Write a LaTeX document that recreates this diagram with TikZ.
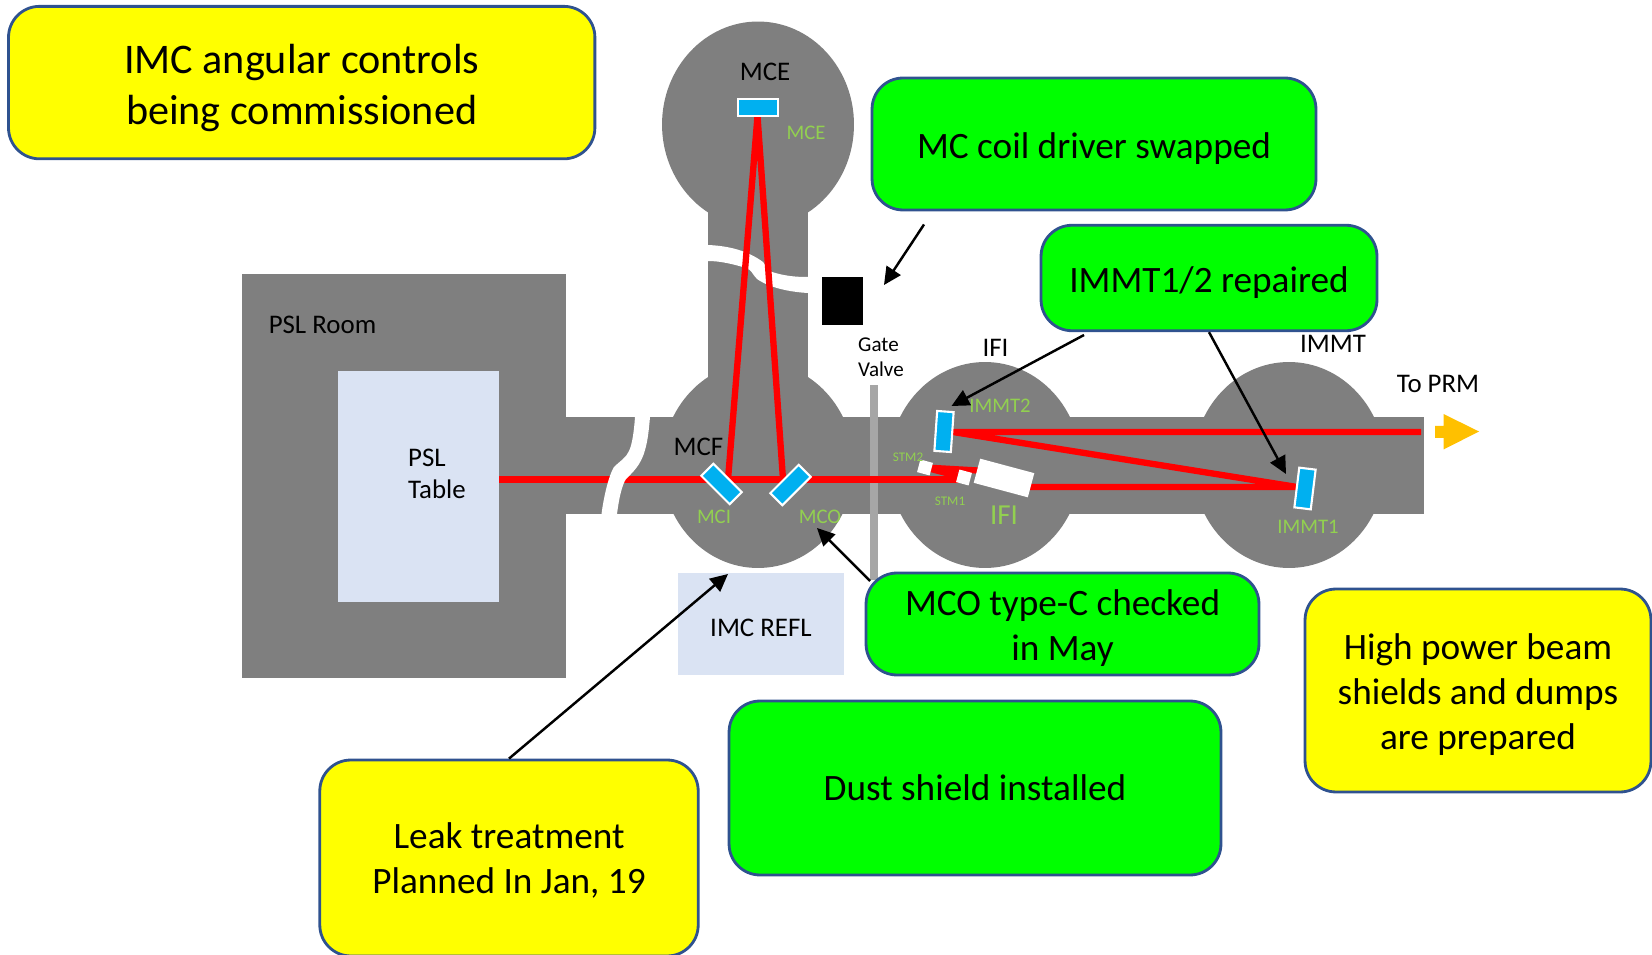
\documentclass[tikz,border=0pt]{standalone}
\usepackage{fontspec}
\setmainfont{Carlito}
\usetikzlibrary{arrows.meta,shapes.geometric}
\definecolor{tubegray}{RGB}{127,127,127}
\definecolor{mirrorblue}{RGB}{0,176,240}
\definecolor{labelgreen}{RGB}{146,208,80}
\definecolor{boxedge}{RGB}{47,82,143}
\definecolor{tablefill}{RGB}{218,227,243}
\definecolor{noteyellow}{RGB}{255,255,0}
\definecolor{notegreen}{RGB}{0,255,0}
\definecolor{outorange}{RGB}{255,192,0}

\begin{document}
\begin{tikzpicture}[
    x=0.02cm, y=-0.02cm,
    callout/.style={draw=boxedge, line width=1.6pt, rounded corners=0.62cm, align=center, font=\fontsize{21.2}{25.7}\selectfont},
    yellowbox/.style={callout, fill=noteyellow},
    greenbox/.style={callout, fill=notegreen},
    lowered/.style={execute at begin node={\rule{0pt}{.96em}}},
    chamber/.style={ellipse, fill=tubegray, inner sep=0, minimum width=3.84cm, minimum height=4.12cm},
    mirror/.style={draw=white, line width=1.2pt, fill=mirrorblue, inner sep=0},
    optic/.style={fill=white, inner sep=0},
    tablebox/.style={fill=tablefill, inner sep=0, font=\fontsize{15.3}{18}\selectfont},
    beam/.style={red, line width=3.6pt},
    gap/.style={fill=white},
    note/.style={inner sep=0, align=center, font=\fontsize{15.3}{18}\selectfont},
    tag/.style={inner sep=0, text=labelgreen, font=\fontsize{11.8}{14}\selectfont},
    arrow/.style={-{Triangle[length=10pt,width=9.5pt]}, line width=1.4pt}
]
\useasboundingbox (0,0) rectangle (1652,955);
\clip (0,0) rectangle (1652,955);

% vacuum system
\fill[tubegray] (241.5,274) rectangle (566,678);
\fill[tubegray] (566,417) rectangle (1424,514);
\fill[tubegray] (708,200) rectangle (808,400);
\node[chamber] (mcechamber) at (758,124.5) {};
\node[chamber] (mcfchamber) at (758,465) {};
\node[chamber] (ifichamber) at (985,465) {};
\node[chamber] (immtchamber) at (1289,465) {};

% gate valve and blocks
\fill[black!35] (870,385) rectangle (878,580);
\fill[black] (822,277.5) rectangle (863,325.5);

% cuts in the tubes
\fill[gap] (708,245) .. controls (730,246) and (748,251) .. (763,262) .. controls (767,266) and (766,270) .. (772,272) .. controls (785,276) and (795,277) .. (808,277) -- (808,293) .. controls (790,292) and (770,288) .. (757,279) .. controls (752,274) and (752,270) .. (746,268) .. controls (733,264) and (720,261) .. (708,261) -- cycle;

% tables
\node[tablebox, minimum width=3.22cm, minimum height=4.62cm] (psltable) at (418.5,486.5) {};
\node[tablebox, minimum width=3.31cm, minimum height=2.04cm, lowered] (imcrefl) at (761,624) {IMC REFL};

% beam
\coordinate (pslout) at (499,479.5);
\coordinate (stm1in) at (964,479.5);
\coordinate (prmout) at (1421,432);
\coordinate (mcein) at (757.5,116);
\coordinate (mcileg) at (728,479.5);
\coordinate (mcoleg) at (783,479.5);
\coordinate (immt1in) at (1297,487);
\coordinate (immt2in) at (953,432);
\coordinate (ifiout) at (1030,487);
\coordinate (stm2out) at (925,467.5);
\coordinate (stm1out) at (964,477.5);
\coordinate (ifiin) at (1004,472);
\draw[beam] (pslout) -- (stm1in);
\draw[beam] (mcileg) -- (mcein) -- (mcoleg);
\draw[beam] (stm2out) -- (stm1out);
\draw[beam] (stm2out) -- (ifiin);
\draw[beam] (ifiout) -- (immt1in) -- (immt2in) -- (prmout);

% mirrors and optics
\node[mirror, minimum width=0.8cm, minimum height=0.33cm] (mce) at (758,107.5) {};
\node[mirror, rotate=-45, minimum width=0.8cm, minimum height=0.34cm] (mci) at (721.5,484) {};
\node[mirror, rotate=45, minimum width=0.8cm, minimum height=0.34cm] (mco) at (790.5,485) {};
\node[mirror, rotate=-4, minimum width=0.33cm, minimum height=0.8cm] (immt2) at (944,431.5) {};
\node[mirror, rotate=-7, minimum width=0.33cm, minimum height=0.8cm] (immt1) at (1305,488.5) {};
\node[optic, rotate=-15, minimum width=0.26cm, minimum height=0.26cm] (stm2) at (925,467.5) {};
\node[optic, rotate=-15, minimum width=0.26cm, minimum height=0.26cm] (stm1) at (964,477.5) {};
\node[optic, rotate=-15, minimum width=1.12cm, minimum height=0.5cm] (ifi) at (1004,478) {};
\fill[gap] (635,417) .. controls (634,432) and (632,445) .. (629,451) .. controls (626,458) and (620,461) .. (614,467) .. controls (609,475) and (604,495) .. (601.5,514) -- (617,514) .. controls (619,498) and (622,485) .. (626,479) .. controls (633,472) and (641,465) .. (645,450) .. controls (648,440) and (649,428) .. (650,417) -- cycle;

% labels
\node[note] (pslroom) at (322.5,324.5) {PSL Room};
\node[note, align=left] (psllabel) at (437,474) {PSL\\Table};
\node[note] (mcelabel) at (765,71.5) {MCE};
\node[note] (mcflabel) at (698.5,447) {MCF};
\node[note] (ifilabel) at (995.5,348) {IFI};
\node[note] (immtlabel) at (1333,343.5) {IMMT};
\node[note] (prmlabel) at (1438,383.5) {To PRM};
\node[note, align=left, font=\fontsize{12}{14.5}\selectfont] (gatelabel) at (881,357) {Gate\\Valve};
\node[tag] (mcetag) at (806,133) {MCE};
\node[tag] (mcitag) at (714,517) {MCI};
\node[tag] (mcotag) at (820,517) {MCO};
\node[tag] (immt2tag) at (1000,406) {IMMT2};
\node[tag] (immt1tag) at (1308,527) {IMMT1};
\node[tag, font=\fontsize{16.5}{19}\selectfont] (ifitag) at (1004,515) {IFI};
\node[tag, font=\fontsize{7.5}{9}\selectfont] (stm2tag) at (908,457) {STM2};
\node[tag, font=\fontsize{7.5}{9}\selectfont] (stm1tag) at (950,501.5) {STM1};

% output arrow
\fill[outorange] (1435,426) -- (1443.5,426) -- (1443.5,414) -- (1479,431.5) -- (1443.5,449.5) -- (1443.5,438) -- (1435,438) -- cycle;

% callouts
\node[yellowbox, minimum width=11.73cm, minimum height=3.05cm, font=\fontsize{24}{29.2}\selectfont] (imcbox) at (301.7,82.6) {\rule{0pt}{.95em}IMC angular controls\\being commissioned};
\node[greenbox, lowered, minimum width=8.88cm, minimum height=2.64cm] (coilbox) at (1094,144) {MC coil driver swapped};
\node[greenbox, lowered, minimum width=6.72cm, minimum height=2.11cm] (immtbox) at (1209,278) {IMMT1/2 repaired};
\node[greenbox, minimum width=7.86cm, minimum height=2.04cm] (mcobox) at (1062.5,624) {\rule{0pt}{.9em}MCO type-C checked\\in May};
\node[yellowbox, minimum width=6.92cm, minimum height=4.06cm] (powerbox) at (1478,690.5) {\rule{0pt}{.93em}High power beam\\shields and dumps\\are prepared};
\node[greenbox, minimum width=9.84cm, minimum height=3.48cm] (dustbox) at (975,788) {Dust shield installed};
\node[yellowbox, minimum width=7.57cm, minimum height=3.92cm] (leakbox) at (509,858) {\rule{0pt}{.82em}Leak treatment\\Planned In Jan, 19};

% arrows
\coordinate (coiltail) at (924,224.5);
\coordinate (coiltip) at (884,285);
\coordinate (immt2tail) at (1084,335);
\coordinate (immt2tip) at (951.5,406);
\coordinate (immt1tip) at (1286,474);
\coordinate (mcotail) at (870,581);
\coordinate (mcotip) at (817,528);
\coordinate (leaktip) at (728,574);
\draw[arrow] (coiltail) -- (coiltip);
\draw[arrow] (immt2tail) -- (immt2tip);
\draw[arrow] (immtbox.south) -- (immt1tip);
\draw[arrow] (mcotail) -- (mcotip);
\draw[arrow] (leakbox.north) -- (leaktip);
\end{tikzpicture}
\end{document}
